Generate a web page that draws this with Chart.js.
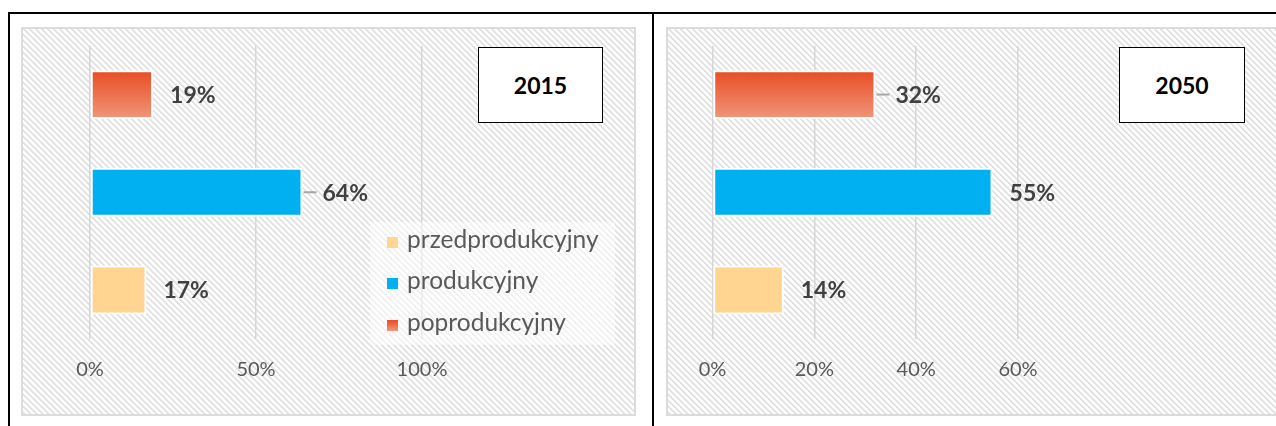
<!DOCTYPE html>
<html><head><meta charset="utf-8">
<script src="https://cdn.jsdelivr.net/npm/chart.js@4.4.1/dist/chart.umd.min.js"></script>
<style>
html,body{margin:0;padding:0;width:1276px;height:426px;overflow:hidden;background:#fff;font-family:Lato,sans-serif;position:relative;}
.line{position:absolute;background:#000;}
canvas{position:absolute;}
.tbox{position:absolute;box-sizing:border-box;border:1px solid #000;background:#fff;
  font:bold 23px Lato,sans-serif;color:#000;display:flex;align-items:center;justify-content:center;}
.lgbg{position:absolute;background:rgba(255,255,255,0.5);}
.mk{position:absolute;width:11px;height:11px;}
.lt{position:absolute;font:24.5px Lato,sans-serif;color:#595959;line-height:30px;white-space:nowrap;}
</style></head>
<body>
<div class="line" style="left:8px;top:12px;width:1268px;height:2px"></div>
<div class="line" style="left:8px;top:12px;width:2px;height:414px"></div>
<div class="line" style="left:652px;top:12px;width:2px;height:414px"></div>

<canvas id="c1" width="615" height="389" style="left:21px;top:27px;width:615px;height:389px"></canvas>
<canvas id="c2" width="640" height="389" style="left:666px;top:27px;width:640px;height:389px"></canvas>

<div class="lgbg" style="left:370px;top:222px;width:245px;height:123px"></div>
<div id="legend"></div>

<div class="tbox" id="t1" style="left:478px;top:47px;width:125px;height:76px"></div>
<div class="tbox" id="t2" style="left:1119px;top:47px;width:126px;height:76px"></div>

<script>
// ---- data ----
const categories = ['poprodukcyjny', 'produkcyjny', 'przedprodukcyjny'];
const values2015 = [19, 64, 17];
const values2050 = [32, 55, 14];
const titles = ['2015', '2050'];
const legendOrder = ['przedprodukcyjny', 'produkcyjny', 'poprodukcyjny'];
const ticks2015 = {max: 100, step: 50};
const ticks2050 = {max: 60, step: 20};

// ---- styles ----
const solidColors = {produkcyjny: '#00B0F0', przedprodukcyjny: '#FFD591'};
const gradTop = '#E84C23', gradBottom = '#F1967B';

function makeHatchTile() {
  const t = document.createElement('canvas');
  t.width = 6; t.height = 6;
  const c = t.getContext('2d');
  c.fillStyle = '#ffffff';
  c.fillRect(0, 0, 6, 6);
  for (let y = 0; y < 6; y++) {
    for (let x = 0; x < 6; x++) {
      const d = ((x - y) % 6 + 6) % 6;
      if (d === 0 || d === 1) { c.fillStyle = '#e1e1e1'; c.fillRect(x, y, 1, 1); }
      else if (d === 2) { c.fillStyle = '#f0f0f0'; c.fillRect(x, y, 1, 1); }
    }
  }
  return t;
}
const hatchTile = makeHatchTile();

const panelBg = {
  id: 'panelBg',
  beforeDraw(chart) {
    const ctx = chart.ctx;
    const w = chart.width, h = chart.height;
    ctx.save();
    ctx.fillStyle = ctx.createPattern(hatchTile, 'repeat');
    ctx.fillRect(0, 0, w, h);
    ctx.strokeStyle = '#dcdcdc';
    ctx.lineWidth = 2;
    ctx.strokeRect(1, 1, w - 2, h - 2);
    ctx.restore();
  }
};

function barColor(ctx) {
  const name = categories[ctx.dataIndex];
  if (name !== 'poprodukcyjny') return solidColors[name];
  const chart = ctx.chart;
  const y = chart.scales.y;
  if (!y || y.bottom === undefined) return gradTop;
  const c = y.getPixelForValue(ctx.dataIndex);
  const band = (y.bottom - y.top) / categories.length;
  const half = band * 0.5 / 2;
  const g = chart.ctx.createLinearGradient(0, c - half, 0, c + half);
  g.addColorStop(0, gradTop);
  g.addColorStop(1, gradBottom);
  return g;
}

const valueLabels = {
  id: 'valueLabels',
  afterDatasetsDraw(chart, args, opts) {
    const ctx = chart.ctx;
    const meta = chart.getDatasetMeta(0);
    const data = chart.data.datasets[0].data;
    ctx.save();
    ctx.font = 'bold 23px Lato, sans-serif';
    ctx.fillStyle = '#404040';
    ctx.textBaseline = 'middle';
    ctx.textAlign = 'left';
    meta.data.forEach((el, i) => {
      const lead = opts.leaders[i];
      if (lead) {
        ctx.strokeStyle = '#a6a6a6';
        ctx.lineWidth = 2;
        ctx.beginPath();
        ctx.moveTo(el.x + 1, el.y);
        ctx.lineTo(el.x + 14, el.y);
        ctx.stroke();
      }
      ctx.fillText(data[i] + '%', el.x + (lead ? 20 : 17), el.y + 1);
    });
    ctx.restore();
  }
};

function makeChart(id, values, tk, pad, leaders) {
  return new Chart(document.getElementById(id), {
    type: 'bar',
    data: {
      labels: categories,
      datasets: [{
        data: values,
        backgroundColor: barColor,
        borderColor: '#ffffff',
        borderWidth: 2,
        borderSkipped: false,
        barPercentage: 0.5,
        categoryPercentage: 1.0
      }]
    },
    options: {
      indexAxis: 'y',
      responsive: false,
      animation: false,
      events: [],
      layout: {padding: pad},
      plugins: {legend: {display: false}, tooltip: {enabled: false}, valueLabels: {leaders}},
      scales: {
        x: {
          min: 0, max: tk.max,
          afterFit(s) { s.height = 77.2; },
          grid: {color: '#d6d6d6', lineWidth: 1.5, drawTicks: false},
          border: {display: false},
          ticks: {stepSize: tk.step, padding: 19, color: '#595959',
                  font: {family: 'Lato', size: 20},
                  callback: v => v + '%'}
        },
        y: {display: false}
      }
    },
    plugins: [panelBg, valueLabels]
  });
}

makeChart('c1', values2015, ticks2015, {left: 69, right: 214, top: 18.7, bottom: 0}, [false, true, false]);
makeChart('c2', values2050, ticks2050, {left: 46.5, right: 288, top: 18.7, bottom: 0}, [true, false, false]);

document.getElementById('t1').textContent = titles[0];
document.getElementById('t2').textContent = titles[1];

// legend
const lg = document.getElementById('legend');
const legendY = [242, 283, 325];
legendOrder.forEach((name, i) => {
  const mk = document.createElement('div');
  mk.className = 'mk';
  mk.style.left = '387px';
  mk.style.top = (legendY[i] - 5.5) + 'px';
  mk.style.background = name === 'poprodukcyjny'
    ? `linear-gradient(${gradTop}, ${gradBottom})` : solidColors[name];
  lg.appendChild(mk);
  const t = document.createElement('div');
  t.className = 'lt';
  t.style.left = '407px';
  t.style.top = (legendY[i] - 18.5) + 'px';
  t.textContent = name;
  lg.appendChild(t);
});
</script>
</body></html>
